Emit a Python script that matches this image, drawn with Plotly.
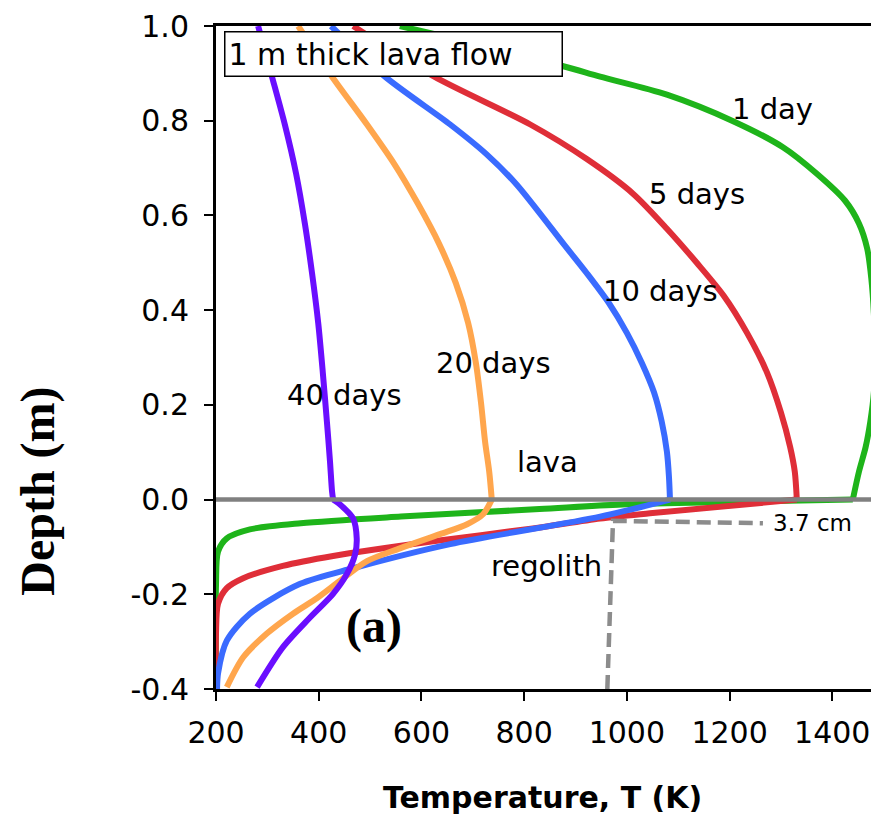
import plotly.graph_objects as go

# ---------------- data ----------------
# Temperature profiles (T in K) vs depth (m); depth > 0 is lava, < 0 regolith
day1_T = [558, 714, 880, 948, 1078, 1207, 1304, 1370, 1425, 1452, 1468, 1476, 1481, 1483, 1481,
          1474, 1465, 1452, 1440,
          1200, 1000, 830, 560, 365, 266, 221, 204, 200, 200]
day1_d = [1.0, 0.960, 0.914, 0.893, 0.855, 0.799, 0.744, 0.688, 0.631, 0.583, 0.530, 0.467, 0.394, 0.310, 0.226,
          0.164, 0.111, 0.059, 0.0,
          -0.005, -0.010, -0.020, -0.036, -0.050, -0.063, -0.082, -0.110, -0.180, -0.40]

day5_T = [467, 625, 812, 922, 1012, 1078, 1137, 1189, 1234, 1273, 1300, 1318, 1327, 1331,
          1045, 948, 817, 623, 428, 330, 253, 221, 204, 200, 200]
day5_d = [1.0, 0.893, 0.792, 0.719, 0.646, 0.572, 0.499, 0.430, 0.352, 0.268, 0.184, 0.111, 0.059, 0.0,
          -0.029, -0.040, -0.061, -0.088, -0.119, -0.140, -0.166, -0.187, -0.220, -0.283, -0.40]

day10_T = [424, 529, 656, 726, 784, 831, 876, 922, 965, 1000, 1029, 1053, 1068, 1078, 1082, 1084,
           948, 656, 467, 364, 266, 221, 204, 202]
day10_d = [1.0, 0.893, 0.792, 0.730, 0.667, 0.604, 0.541, 0.478, 0.415, 0.352, 0.289, 0.226, 0.164, 0.101, 0.048, 0.0,
           -0.036, -0.094, -0.145, -0.178, -0.241, -0.298, -0.367, -0.40]

day20_T = [360, 426, 494, 547, 593, 634, 667, 691, 706, 716, 724, 732, 737,
           720, 689, 636, 558, 494, 441, 397, 350, 299, 253, 221]
day20_d = [1.0, 0.893, 0.792, 0.709, 0.625, 0.541, 0.457, 0.373, 0.289, 0.205, 0.122, 0.059, 0.0,
           -0.031, -0.052, -0.073, -0.103, -0.130, -0.172, -0.208, -0.241, -0.283, -0.333, -0.396]

day40_T = [282, 309, 334, 356, 373, 387, 399, 408, 416, 422, 426, 428,
           441, 467, 474, 471, 455, 428, 383, 330, 280]
day40_d = [1.0, 0.893, 0.792, 0.688, 0.583, 0.478, 0.373, 0.268, 0.164, 0.080, 0.017, 0.0,
           -0.010, -0.040, -0.082, -0.115, -0.157, -0.199, -0.249, -0.312, -0.396]

series_names = ["1 day", "5 days", "10 days", "20 days", "40 days"]
series_T = [day1_T, day5_T, day10_T, day20_T, day40_T]
series_d = [day1_d, day5_d, day10_d, day20_d, day40_d]
series_colors = ["#1EB41A", "#DF2E38", "#3A6BFF", "#FFA64D", "#6A0EFF"]

# lava / regolith interface line
interface_T = [200, 1500]
interface_d = [0.0, 0.0]

# 3.7 cm marker (dashed)
marker_T = [962, 973, 1265]
marker_d = [-0.40, -0.045, -0.050]

# labels placed on the chart (text, T, depth)
label_text = ["1 day", "5 days", "10 days", "20 days", "40 days", "lava", "regolith"]
label_T = [1283, 1137, 1066, 741, 451, 846, 844]
label_d = [0.824, 0.646, 0.440, 0.289, 0.220, 0.080, -0.140]

x_tick_vals = [200, 400, 600, 800, 1000, 1200, 1400]
x_tick_text = ["200", "400", "600", "800", "1000", "1200", "1400"]
y_tick_vals = [-0.4, -0.2, 0.0, 0.2, 0.4, 0.6, 0.8, 1.0]
y_tick_text = ["-0.4", "-0.2", "0.0", "0.2", "0.4", "0.6", "0.8", "1.0"]

# ---------------- figure ----------------
fig = go.Figure()
for name, T, d, c in zip(series_names, series_T, series_d, series_colors):
    k = d.index(0.0)  # lava part and regolith part meet at the interface (sharp corner)
    for seg_T, seg_d in ((T[:k + 1], d[:k + 1]), (T[k:], d[k:])):
        fig.add_trace(go.Scatter(x=seg_T, y=seg_d, mode="lines", name=name,
                                 line=dict(color=c, width=6, shape="spline", smoothing=0.8)))

fig.add_trace(go.Scatter(x=interface_T, y=interface_d, mode="lines",
                         line=dict(color="#808080", width=4.5)))
fig.add_trace(go.Scatter(x=marker_T, y=marker_d, mode="lines",
                         line=dict(color="#8C8C8C", width=4.5, dash="14px,7px")))

FONT = "DejaVu Sans"
annotations = []
for t, x, y in zip(label_text, label_T, label_d):
    annotations.append(dict(x=x, y=y, xref="x", yref="y", text=t, showarrow=False,
                            xanchor="center", yanchor="middle",
                            font=dict(family=FONT, size=29, color="black")))
annotations.append(dict(x=1361, y=-0.050, xref="x", yref="y", text="3.7 cm", showarrow=False,
                        xanchor="center", yanchor="middle",
                        font=dict(family=FONT, size=23, color="black")))
annotations.append(dict(x=508, y=-0.266, xref="x", yref="y", text="<b>(a)</b>", showarrow=False,
                        xanchor="center", yanchor="middle",
                        font=dict(family="Liberation Serif", size=48, color="black")))
annotations.append(dict(x=215.5, y=0.990, xref="x", yref="y", xanchor="left", yanchor="top",
                        text="1 m thick lava flow", showarrow=False, align="left",
                        width=330, height=37, borderpad=3, borderwidth=1.5,
                        bordercolor="black", bgcolor="white",
                        font=dict(family=FONT, size=30, color="black")))
# axis titles
annotations.append(dict(x=0.493, y=-0.163, xref="paper", yref="paper", text="<b>Temperature, T (K)</b>",
                        showarrow=False, xanchor="center", yanchor="middle",
                        font=dict(family=FONT, size=30, color="black")))
annotations.append(dict(x=-0.2685, y=0.299, xref="paper", yref="paper", text="<b>Depth (m)</b>",
                        showarrow=False, textangle=-90, xanchor="center", yanchor="middle",
                        font=dict(family="Liberation Serif", size=48, color="black")))

# the page body has an 8px margin: size/margins compensate so the plot area
# sits at x 216..879, y 21..689 in the window
fig.update_layout(
    width=871, height=809,
    margin=dict(l=208, r=0, t=13, b=128),
    paper_bgcolor="white", plot_bgcolor="white",
    showlegend=False,
    annotations=annotations,
    xaxis=dict(range=[200, 1491], tickvals=x_tick_vals, ticktext=x_tick_text,
               showgrid=False, zeroline=False, showline=True, linecolor="black", linewidth=2.5,
               mirror=True, ticks="outside", ticklen=9, tickwidth=1.5, tickcolor="black",
               ticklabelstandoff=6, ticklabeloverflow="allow",
               tickfont=dict(family=FONT, size=30, color="black")),
    yaxis=dict(range=[-0.4, 1.0], tickvals=y_tick_vals, ticktext=y_tick_text,
               showgrid=False, zeroline=False, showline=True, linecolor="black", linewidth=3,
               ticks="outside", ticklen=9, tickwidth=1.5, tickcolor="black",
               ticklabelstandoff=9, ticklabeloverflow="allow",
               tickfont=dict(family=FONT, size=30, color="black")),
)

fig.write_html("out.html")
